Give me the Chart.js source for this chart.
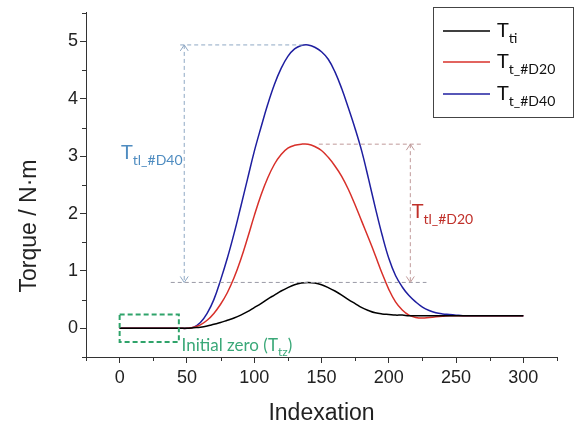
<!DOCTYPE html>
<html>
<head>
<meta charset="utf-8">
<script src="https://cdn.jsdelivr.net/npm/chart.js@4.4.1/dist/chart.umd.min.js"></script>
<style>
  html, body { margin: 0; padding: 0; background: #fff; }
  #wrap { width: 580px; height: 427px; position: relative; }
</style>
</head>
<body>
<div id="wrap"><canvas id="torqueChart"></canvas></div>
<script>
// -------- DATA --------
const indexation = [
  0, 5, 10, 15, 20, 25, 30, 35, 40, 45, 50,
  55, 60, 65, 70, 75, 80, 85, 90, 95, 100,
  105, 110, 115, 120, 125, 130, 135, 140, 145, 150,
  155, 160, 165, 170, 175, 180, 185, 190, 195, 200,
  205, 210, 215, 220, 225, 230, 235, 240, 245, 250,
  255, 260, 265, 270, 275, 280, 285, 290, 295, 300
];

const torqueTi = [
  0, 0, 0, 0, 0, 0, 0, 0, 0, 0, 0,
  0.01, 0.02, 0.04, 0.07, 0.10, 0.14, 0.18, 0.23, 0.29, 0.36,
  0.43, 0.51, 0.58, 0.65, 0.71, 0.76, 0.79, 0.80, 0.79, 0.76,
  0.71, 0.65, 0.58, 0.50, 0.43, 0.36, 0.31, 0.27, 0.25, 0.24,
  0.23, 0.23, 0.22, 0.22, 0.22, 0.22, 0.22, 0.22, 0.22, 0.22,
  0.22, 0.22, 0.22, 0.22, 0.22, 0.22, 0.22, 0.22, 0.22, 0.22
];

const torqueD20 = [
  0, 0, 0, 0, 0, 0, 0, 0, 0, 0, 0,
  0.02, 0.06, 0.14, 0.26, 0.42, 0.62, 0.88, 1.20, 1.57, 1.96,
  2.32, 2.62, 2.86, 3.03, 3.14, 3.19, 3.21, 3.21, 3.17, 3.10,
  2.98, 2.83, 2.65, 2.42, 2.15, 1.86, 1.57, 1.27, 0.96, 0.68,
  0.46, 0.32, 0.23, 0.19, 0.18, 0.19, 0.20, 0.21, 0.22, 0.22,
  0.22, 0.22, 0.22, 0.22, 0.22, 0.22, 0.22, 0.22, 0.22, 0.22
];

const torqueD40 = [
  0, 0, 0, 0, 0, 0, 0, 0, 0, 0, 0,
  0.02, 0.10, 0.26, 0.50, 0.84, 1.22, 1.65, 2.12, 2.60, 3.08,
  3.50, 3.90, 4.25, 4.53, 4.74, 4.87, 4.93, 4.94, 4.90, 4.82,
  4.69, 4.47, 4.18, 3.84, 3.48, 3.08, 2.60, 2.10, 1.63, 1.22,
  0.92, 0.72, 0.57, 0.46, 0.37, 0.31, 0.27, 0.25, 0.24, 0.23,
  0.22, 0.22, 0.22, 0.22, 0.22, 0.22, 0.22, 0.22, 0.22, 0.22
];

const seriesNames = ['T_ti', 'T_t_#D20', 'T_t_#D40'];
const legendSubs = ['ti', 't_#D20', 't_#D40'];
const seriesColors = ['#000000', '#d8302a', '#1f1fa0'];

// -------- ANNOTATIONS (data coordinates) --------
const peakD40 = 4.94;
const peakD20 = 3.21;
const peakTi = 0.80;
const zeroBox = { x0: 0, x1: 44, y0: -0.24, y1: 0.24 };

const toPoints = vals => indexation.map((x, i) => ({ x, y: vals[i] }));

const tickFont = { family: "'Liberation Sans', Arial, sans-serif", size: 18 };
const noteFont = "Lato, 'Open Sans', sans-serif";

function arrowHead(ctx, x, y, dir) {
  // open V head, dir = -1 pointing up, 1 pointing down
  ctx.beginPath();
  ctx.moveTo(x - 4, y - dir * 6);
  ctx.lineTo(x, y);
  ctx.lineTo(x + 4, y - dir * 6);
  ctx.stroke();
}

function subText(ctx, x, y, main, sub, size, color, tail) {
  ctx.fillStyle = color;
  ctx.textAlign = 'left';
  ctx.textBaseline = 'alphabetic';
  ctx.font = `${size}px ${noteFont}`;
  ctx.fillText(main, x, y);
  let w = ctx.measureText(main).width;
  ctx.font = `${Math.round(size * 0.68)}px ${noteFont}`;
  ctx.fillText(sub, x + w, y + size * 0.28);
  w += ctx.measureText(sub).width;
  if (tail) {
    ctx.font = `${size}px ${noteFont}`;
    ctx.fillText(tail, x + w, y);
  }
}

const annotate = {
  id: 'annotate',
  afterDatasetsDraw(chart) {
    const { ctx, scales: { x, y } } = chart;
    ctx.save();
    ctx.lineWidth = 1;
    ctx.setLineDash([4, 3]);

    // T_tl_#D40 guides
    ctx.strokeStyle = '#8fa8c4';
    ctx.beginPath();
    ctx.moveTo(x.getPixelForValue(45), y.getPixelForValue(peakD40));
    ctx.lineTo(x.getPixelForValue(136), y.getPixelForValue(peakD40));
    ctx.moveTo(x.getPixelForValue(48), y.getPixelForValue(peakD40));
    ctx.lineTo(x.getPixelForValue(48), y.getPixelForValue(peakTi));
    ctx.stroke();

    // common baseline at T_ti peak
    ctx.strokeStyle = '#9a9aa6';
    ctx.beginPath();
    ctx.moveTo(x.getPixelForValue(38), y.getPixelForValue(peakTi));
    ctx.lineTo(x.getPixelForValue(228), y.getPixelForValue(peakTi));
    ctx.stroke();

    // T_tl_#D20 guides
    ctx.strokeStyle = '#c09a9a';
    ctx.beginPath();
    ctx.moveTo(x.getPixelForValue(148), y.getPixelForValue(peakD20));
    ctx.lineTo(x.getPixelForValue(224), y.getPixelForValue(peakD20));
    ctx.moveTo(x.getPixelForValue(216), y.getPixelForValue(peakD20));
    ctx.lineTo(x.getPixelForValue(216), y.getPixelForValue(peakTi));
    ctx.stroke();

    ctx.setLineDash([]);
    ctx.strokeStyle = '#8fa8c4';
    arrowHead(ctx, x.getPixelForValue(48), y.getPixelForValue(peakD40), -1);
    arrowHead(ctx, x.getPixelForValue(48), y.getPixelForValue(peakTi), 1);
    ctx.strokeStyle = '#c09a9a';
    arrowHead(ctx, x.getPixelForValue(216), y.getPixelForValue(peakD20), -1);
    arrowHead(ctx, x.getPixelForValue(216), y.getPixelForValue(peakTi), 1);

    // initial zero box
    ctx.strokeStyle = '#2fa36a';
    ctx.lineWidth = 2;
    ctx.setLineDash([5, 3]);
    const bx0 = x.getPixelForValue(zeroBox.x0), bx1 = x.getPixelForValue(zeroBox.x1);
    const by0 = y.getPixelForValue(zeroBox.y1), by1 = y.getPixelForValue(zeroBox.y0);
    ctx.strokeRect(bx0, by0, bx1 - bx0, by1 - by0);
    ctx.setLineDash([]);

    // labels
    subText(ctx, x.getPixelForValue(1), y.getPixelForValue(2.95), 'T', 'tl_#D40', 20, '#4f8cc0');
    subText(ctx, x.getPixelForValue(217), y.getPixelForValue(1.92), 'T', 'tl_#D20', 20, '#c0302a');
    subText(ctx, x.getPixelForValue(46), y.getPixelForValue(-0.4), 'Initial zero (T', 'tz', 17, '#3aa878', ')');

    // minor ticks
    ctx.strokeStyle = '#333';
    ctx.lineWidth = 1;
    ctx.beginPath();
    x.ticks.forEach(t => {
      if (t.value % 50 !== 0) {
        const px = Math.round(x.getPixelForValue(t.value)) + 0.5;
        ctx.moveTo(px, x.top);
        ctx.lineTo(px, x.top + 4);
      }
    });
    y.ticks.forEach(t => {
      if (t.value % 1 !== 0) {
        const py = Math.round(y.getPixelForValue(t.value)) + 0.5;
        ctx.moveTo(y.right, py);
        ctx.lineTo(y.right - 4, py);
      }
    });
    ctx.stroke();

    // y axis title
    ctx.save();
    ctx.translate(30, 226);
    ctx.rotate(-Math.PI / 2);
    ctx.fillStyle = '#222';
    ctx.font = "23px 'Liberation Sans', Arial, sans-serif";
    ctx.textAlign = 'center';
    ctx.textBaseline = 'middle';
    ctx.fillText('Torque / N\u00b7m', 0, 0);
    ctx.restore();

    // legend
    const lx = 433, ly = 7, lw = 140, lh = 110;
    ctx.fillStyle = '#fff';
    ctx.fillRect(lx, ly, lw, lh);
    ctx.strokeStyle = '#444';
    ctx.lineWidth = 1;
    ctx.strokeRect(lx + 0.5, ly + 0.5, lw, lh);
    const rows = [31, 62, 94];
    rows.forEach((ry, i) => {
      ctx.strokeStyle = seriesColors[i];
      ctx.lineWidth = 1.5;
      ctx.beginPath();
      ctx.moveTo(443, ry);
      ctx.lineTo(490, ry);
      ctx.stroke();
      subText(ctx, 497, ry + 6, 'T', legendSubs[i], 20, '#111');
    });

    ctx.restore();
  }
};

new Chart(document.getElementById('torqueChart'), {
  type: 'line',
  data: {
    datasets: [torqueTi, torqueD20, torqueD40].map((vals, i) => ({
      label: seriesNames[i],
      data: toPoints(vals),
      borderColor: seriesColors[i],
      borderWidth: 1.5,
      pointRadius: 0,
      fill: false,
      tension: 0.4
    }))
  },
  options: {
    responsive: true,
    maintainAspectRatio: false,
    animation: false,
    layout: { padding: { top: 8, right: 23, left: 0, bottom: 0 } },
    plugins: {
      legend: { display: false },
      tooltip: { enabled: false }
    },
    scales: {
      x: {
        type: 'linear',
        min: -25,
        max: 325,
        afterFit: s => { s.height = 70; },
        border: { display: true, color: '#333', width: 1 },
        grid: {
          drawOnChartArea: false,
          drawTicks: true,
          tickLength: 6,
          tickColor: c => (c.tick && c.tick.value % 50 === 0 ? '#333' : 'rgba(0,0,0,0)')
        },
        ticks: {
          stepSize: 25,
          autoSkip: false,
          maxRotation: 0,
          padding: 4,
          color: '#222',
          font: tickFont,
          callback: v => (v % 50 === 0 ? v : '')
        },
        title: {
          display: true,
          text: 'Indexation',
          color: '#222',
          font: { family: "'Liberation Sans', Arial, sans-serif", size: 23 },
          padding: { top: 0, bottom: 0 }
        }
      },
      y: {
        min: -0.5,
        max: 5.5,
        afterFit: s => { s.width = 86; },
        border: { display: true, color: '#333', width: 1 },
        grid: {
          drawOnChartArea: false,
          drawTicks: true,
          tickLength: 6,
          tickColor: c => (c.tick && c.tick.value % 1 === 0 ? '#333' : 'rgba(0,0,0,0)')
        },
        ticks: {
          stepSize: 0.5,
          autoSkip: false,
          padding: 2,
          color: '#222',
          font: tickFont,
          callback: v => (v % 1 === 0 ? v : '')
        }
      }
    }
  },
  plugins: [annotate]
});
</script>
</body>
</html>
